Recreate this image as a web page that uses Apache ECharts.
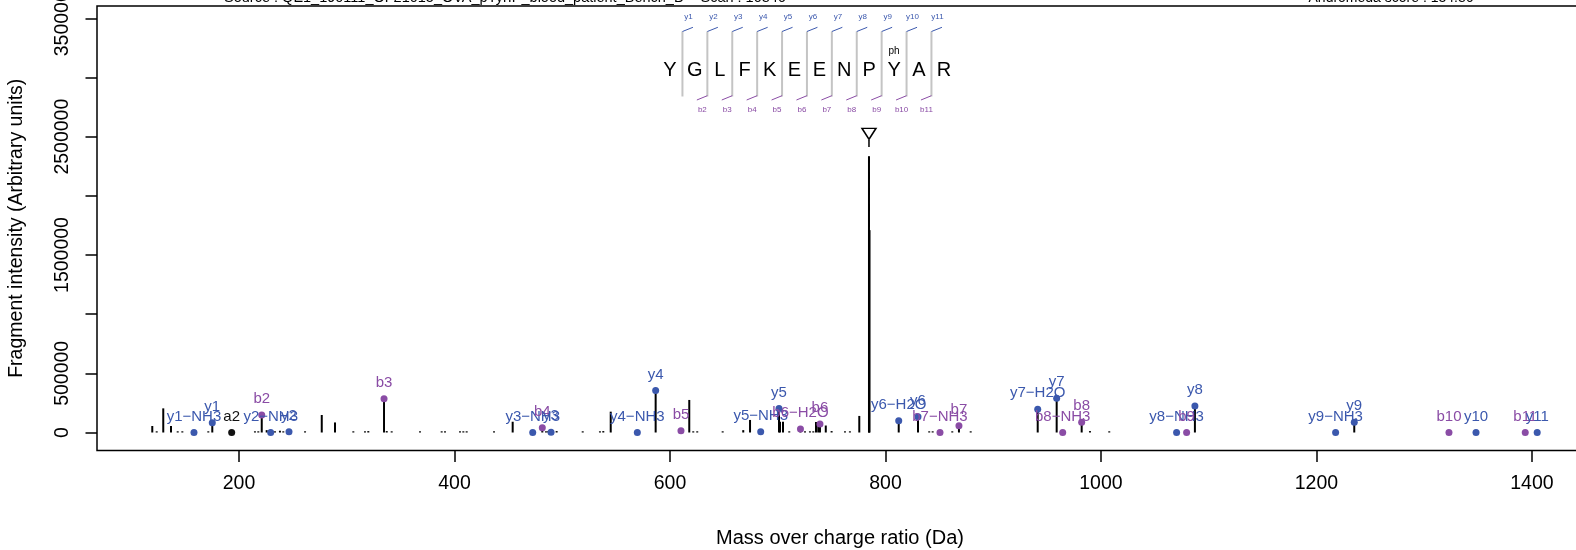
<!DOCTYPE html>
<html>
<head>
<meta charset="utf-8">
<title>Spectrum</title>
<script src="https://cdn.jsdelivr.net/npm/echarts@6/dist/echarts.min.js"></script>
<style>
  html, body { margin: 0; padding: 0; background: #fff; }
  #chart { width: 1576px; height: 550px; }
</style>
</head>
<body>
<div id="chart"></div>
<script>
// unannotated fragment peaks
const peakMz = [119.5, 123.6, 129.7, 136.9, 143.1, 147.4, 171.5, 214.8, 217.9, 225.7, 233.4, 238.0, 241.1,
  261.3, 276.8, 289.1, 306.1, 316.9, 320.0, 337.1, 341.7, 368.0, 388.1, 391.2, 405.1, 408.2, 411.3, 436.7,
  454.0, 484.9, 487.0, 494.8, 519.0, 535.0, 538.1, 545.0, 617.9, 621.6, 625.3, 648.9, 668.0, 674.3, 702.1,
  704.9, 710.7, 725.3, 729.9, 733.0, 735.5, 737.6, 744.6, 750.0, 762.4, 767.0, 775.7, 784.7, 785.2, 840.6,
  843.8, 862.0, 879.1, 989.8, 1007.7];
const peakInt = [55000, 5000, 204000, 55000, 8000, 8000, 8000, 8000, 8000, 20000, 6000, 15000, 6000,
  6000, 148000, 85000, 6000, 6000, 12000, 12000, 6000, 6000, 5000, 5000, 5000, 5000, 5000, 5000,
  91000, 6000, 12000, 12000, 6000, 6000, 12000, 176000, 275000, 6000, 6000, 6000, 20000, 106000, 91000,
  91000, 6000, 6000, 6000, 6000, 89000, 89000, 59000, 12000, 6000, 6000, 140000, 2330000, 1710000, 6000,
  6000, 8000, 6000, 12000, 6000];

// annotated ions
const ionNames = ['y1−NH3', 'y1', 'a2', 'b2', 'y2−NH3', 'y2', 'b3', 'y3−NH3', 'b4', 'y3', 'y4−NH3', 'y4',
  'b5', 'y5−NH3', 'y5', 'b6−H2O', 'b6', 'y6−H2O', 'y6', 'b7−NH3', 'b7', 'y7−H2O', 'y7', 'b8−NH3', 'b8',
  'y8−NH3', 'b9', 'y8', 'y9−NH3', 'y9', 'b10', 'y10', 'b11', 'y11'];
const ionMz = [158.2, 175.2, 193.2, 221.1, 229.4, 246.4, 334.6, 472.6, 481.5, 489.6, 569.7, 586.7,
  610.2, 684.2, 701.2, 721.1, 739.2, 812.3, 830.2, 850.6, 868.2, 941.3, 958.9, 964.5, 982.1,
  1070.2, 1079.5, 1087.2, 1217.8, 1235.1, 1323.0, 1348.1, 1393.8, 1404.9];
const ionInt = [0, 83000, 0, 148000, 0, 6000, 285000, 0, 41000, 3000, 0, 355000,
  15000, 6000, 202000, 30000, 72000, 100000, 134000, 0, 57000, 196000, 289000, 0, 86000,
  0, 0, 224000, 0, 86000, 0, 0, 0, 0];
const ionType = ['y', 'y', 'a', 'b', 'y', 'y', 'b', 'y', 'b', 'y', 'y', 'y',
  'b', 'y', 'y', 'b', 'b', 'y', 'y', 'b', 'b', 'y', 'y', 'b', 'b',
  'y', 'b', 'y', 'y', 'y', 'b', 'y', 'b', 'y'];

// precursor
const precursorMz = 784.7;
const precursorLine = 2472000;
const precursorMark = 2524000;

// peptide
const sequence = ['Y', 'G', 'L', 'F', 'K', 'E', 'E', 'N', 'P', 'Y', 'A', 'R'];
const topIonLabels = ['y1', 'y2', 'y3', 'y4', 'y5', 'y6', 'y7', 'y8', 'y9', 'y10', 'y11'];
const bottomIonLabels = ['b2', 'b3', 'b4', 'b5', 'b6', 'b7', 'b8', 'b9', 'b10', 'b11'];
const modIndex = 9;

const xTicks = [200, 400, 600, 800, 1000, 1200, 1400];
const yTicks = [0, 500000, 1000000, 1500000, 2000000, 2500000, 3000000, 3500000];
const yTickLabels = [0, 500000, 1500000, 2500000, 3500000];

const FONT = 'Liberation Sans, Arial, Helvetica, sans-serif';
const BLUE = '#3b58ad';
const PURPLE = '#8a4ca5';
const colorOf = { y: BLUE, b: PURPLE, a: '#111' };

const chart = echarts.init(document.getElementById('chart'));

const sticks = peakMz.map((m, i) => [m, peakInt[i]])
  .concat(ionMz.map((m, i) => [m, ionInt[i]]).filter(d => d[1] > 0));

const ionData = ionMz.map((m, i) => ({
  value: [m, ionInt[i]],
  name: ionNames[i],
  itemStyle: { color: colorOf[ionType[i]], opacity: 1 },
  label: { color: colorOf[ionType[i]] }
}));

// peptide sequence drawing (page layout, not data)
const seqX0 = 670, seqStep = 24.9, seqY = 70;
const seqGraphics = [];
sequence.forEach((aa, i) => {
  seqGraphics.push({
    type: 'text', x: seqX0 + i * seqStep, y: seqY,
    style: { text: aa, fontSize: 20, fontFamily: FONT, fill: '#000', align: 'center', verticalAlign: 'middle' }
  });
});
seqGraphics.push({
  type: 'text', x: seqX0 + modIndex * seqStep, y: 51.5,
  style: { text: 'ph', fontSize: 10, fontFamily: FONT, fill: '#000', align: 'center', verticalAlign: 'middle' }
});
for (let j = 0; j < sequence.length - 1; j++) {
  const sx = seqX0 + (j + 0.5) * seqStep;
  seqGraphics.push({
    type: 'line', shape: { x1: sx, y1: 31.5, x2: sx, y2: 96.5 },
    style: { stroke: '#c4c4c4', lineWidth: 2 }
  });
  seqGraphics.push({
    type: 'line', shape: { x1: sx, y1: 31.5, x2: sx + 10.5, y2: 27.3 },
    style: { stroke: BLUE, lineWidth: 1 }
  });
  seqGraphics.push({
    type: 'text', x: sx + 6, y: 16.5,
    style: { text: topIonLabels[j], fontSize: 8, fontFamily: FONT, fill: BLUE, align: 'center', verticalAlign: 'middle' }
  });
  if (j > 0) {
    seqGraphics.push({
      type: 'line', shape: { x1: sx, y1: 95.7, x2: sx - 10.5, y2: 100 },
      style: { stroke: PURPLE, lineWidth: 1 }
    });
    seqGraphics.push({
      type: 'text', x: sx - 5, y: 110,
      style: { text: bottomIonLabels[j - 1], fontSize: 8, fontFamily: FONT, fill: PURPLE, align: 'center', verticalAlign: 'middle' }
    });
  }
}

const option = {
  animation: false,
  textStyle: { fontFamily: FONT },
  grid: {
    left: 97, top: 6, right: -7, bottom: 99.5,
    show: true, borderColor: '#000', borderWidth: 1.5,
    outerBoundsMode: 'none'
  },
  xAxis: {
    type: 'value', min: 68.2, max: 1447.4,
    name: 'Mass over charge ratio (Da)',
    nameLocation: 'middle', nameGap: 78,
    nameTextStyle: { fontSize: 20, color: '#000', fontFamily: FONT },
    axisLine: { show: false, onZero: false },
    splitLine: { show: false },
    axisTick: { show: true, customValues: xTicks, length: 11.5, lineStyle: { color: '#000', width: 1.5 } },
    axisLabel: { customValues: xTicks, fontSize: 19.5, color: '#000', margin: 23, fontFamily: FONT,
      formatter: v => String(v) }
  },
  yAxis: {
    type: 'value', min: -152100, max: 3604000,
    name: 'Fragment intensity (Arbitrary units)',
    nameLocation: 'middle', nameGap: 70, nameRotate: 90,
    nameTextStyle: { fontSize: 19.5, color: '#000', fontFamily: FONT },
    axisLine: { show: false, onZero: false },
    splitLine: { show: false },
    axisTick: { show: true, customValues: yTicks, length: 11.5, lineStyle: { color: '#000', width: 1.5 } },
    axisLabel: { customValues: yTickLabels, rotate: 90, fontSize: 19.5, color: '#000', margin: 24, fontFamily: FONT,
      formatter: v => String(v) }
  },
  graphic: [
    {
      type: 'text', x: 505, y: -2,
      style: { text: 'Source : QE1_190111_OF21015_OVA_pTyrIP_blood_patient_Bench_D    Scan : 10846',
        fontSize: 14.5, fontFamily: FONT, fill: '#000', align: 'center', verticalAlign: 'middle' }
    },
    {
      type: 'text', x: 1391, y: -2,
      style: { text: 'Andromeda score : 134.86',
        fontSize: 14, fontFamily: FONT, fill: '#000', align: 'center', verticalAlign: 'middle' }
    }
  ].concat(seqGraphics),
  series: [
    {
      // precursor dashed marker line
      type: 'custom',
      data: [[precursorMz, precursorLine]],
      renderItem: (params, api) => {
        const top = api.coord([api.value(0), api.value(1)]);
        const base = api.coord([api.value(0), 0]);
        return {
          type: 'line',
          shape: { x1: top[0], y1: top[1], x2: base[0], y2: base[1] },
          style: { stroke: '#000', lineWidth: 1.5, lineDash: [7, 9] }
        };
      },
      z: 1
    },
    {
      type: 'custom',
      data: sticks,
      renderItem: (params, api) => {
        const top = api.coord([api.value(0), api.value(1)]);
        const base = api.coord([api.value(0), 0]);
        return {
          type: 'line',
          shape: { x1: top[0], y1: Math.min(top[1], base[1] - 1.2), x2: base[0], y2: base[1] },
          style: { stroke: '#000', lineWidth: 2 }
        };
      },
      z: 2
    },
    {
      type: 'scatter',
      data: [[precursorMz, precursorMark]],
      symbol: 'triangle',
      symbolRotate: 180,
      symbolSize: [14, 11],
      itemStyle: { color: '#fff', borderColor: '#000', borderWidth: 1.5, opacity: 1 },
      z: 3
    },
    {
      type: 'scatter',
      data: ionData,
      symbolSize: 7,
      label: {
        show: true, position: 'top', distance: 5,
        fontSize: 15, fontFamily: FONT,
        formatter: p => p.name
      },
      z: 4
    }
  ]
};

chart.setOption(option);
</script>
</body>
</html>
